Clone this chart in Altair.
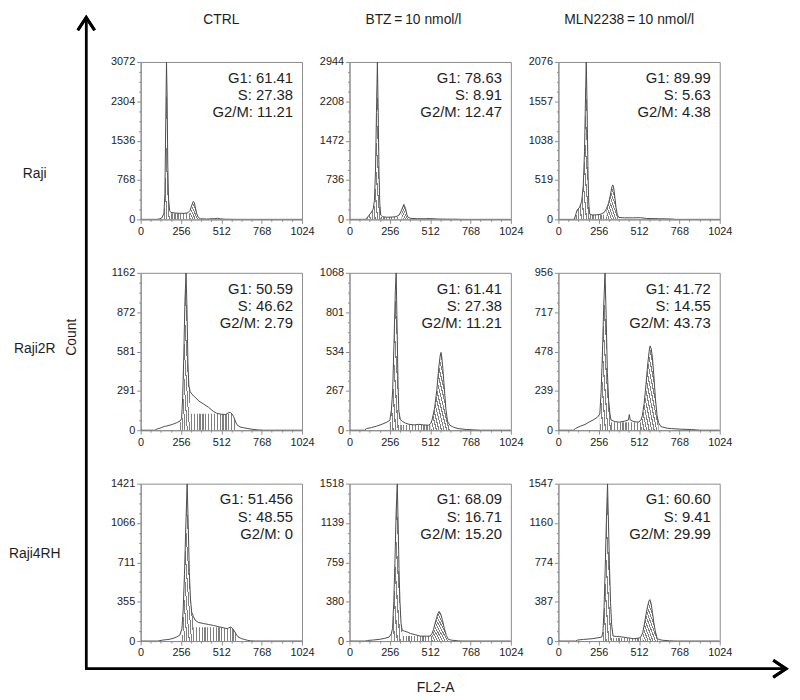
import altair as alt
import pandas as pd

# ---------------- data ----------------
row_names = ["Raji", "Raji2R", "Raji4RH"]
col_names = ["CTRL", "BTZ\u2009=\u200910 nmol/l", "MLN2238\u2009=\u200910 nmol/l"]
x_title = "FL2-A"
y_title = "Count"
x_tick_labels = [0, 256, 512, 768, 1024]
y_top_labels = [3072, 2944, 2076, 1162, 1068, 956, 1421, 1518, 1547]

g1_pct = ["61.41", "78.63", "89.99", "50.59", "61.41", "41.72", "51.456", "68.09", "60.60"]
s_pct = ["27.38", "8.91", "5.63", "46.62", "27.38", "14.55", "48.55", "16.71", "9.41"]
g2m_pct = ["11.21", "12.47", "4.38", "2.79", "11.21", "43.73", "0", "15.20", "29.99"]

# (channel, count) pairs of each DNA histogram
hist_raji_ctrl = [(0, 0), (100, 0), (118, 8), (135, 30), (148, 120), (154, 500), (159, 1800), (164, 3072),
                  (168, 2400), (172, 1100), (177, 400), (184, 170), (192, 135), (215, 125), (245, 118),
                  (275, 118), (300, 128), (314, 175), (324, 270), (334, 350), (340, 330), (348, 220),
                  (356, 110), (366, 35), (380, 12), (420, 6), (470, 14), (488, 22), (505, 10), (540, 3),
                  (600, 0), (1024, 0)]
hist_raji_btz = [(0, 0), (100, 0), (112, 30), (125, 80), (140, 140), (150, 190), (158, 350), (165, 900),
                 (171, 2000), (177, 2944), (182, 2000), (187, 900), (192, 300), (198, 80), (210, 50),
                 (235, 40), (265, 42), (295, 50), (315, 80), (330, 170), (345, 280), (356, 200), (364, 90),
                 (372, 35), (390, 18), (430, 12), (480, 12), (515, 15), (560, 6), (620, 4), (680, 3),
                 (720, 0), (1024, 0)]
hist_raji_mln = [(0, 0), (100, 0), (110, 60), (118, 120), (135, 160), (148, 240), (158, 450), (166, 900),
                 (172, 1600), (177, 2076), (182, 1500), (188, 600), (193, 200), (199, 70), (215, 58),
                 (240, 60), (265, 65), (290, 90), (305, 140), (318, 210), (330, 320), (340, 430), (345, 454),
                 (350, 430), (358, 300), (366, 150), (374, 60), (384, 25), (420, 20), (470, 20), (520, 22),
                 (560, 12), (640, 8), (716, 5), (740, 0), (1024, 0)]
hist_raji2r_ctrl = [(0, 0), (90, 0), (101, 7), (130, 18), (150, 28), (165, 31), (200, 42), (228, 55),
                    (250, 68), (260, 85), (267, 250), (274, 560), (281, 950), (288, 1162), (294, 900),
                    (300, 500), (306, 330), (314, 285), (326, 265), (344, 245), (370, 215), (397, 195),
                    (430, 170), (460, 140), (481, 126), (510, 118), (540, 116), (556, 128), (568, 132),
                    (580, 120), (590, 100), (600, 70), (610, 42), (630, 24), (655, 18), (700, 8), (740, 3),
                    (780, 0), (1024, 0)]
hist_raji2r_btz = [(0, 0), (95, 0), (108, 11), (140, 18), (170, 27), (200, 38), (232, 52), (256, 67),
                   (266, 140), (274, 270), (283, 620), (291, 950), (296, 1068), (302, 700), (308, 300),
                   (313, 130), (322, 75), (335, 60), (355, 48), (378, 40), (410, 36), (440, 40), (470, 36),
                   (502, 34), (515, 45), (524, 70), (540, 150), (554, 270), (566, 420), (576, 510),
                   (581, 528), (586, 490), (592, 420), (602, 280), (612, 140), (622, 60), (637, 34),
                   (660, 20), (689, 11), (740, 5), (793, 2), (830, 0), (1024, 0)]
hist_raji2r_mln = [(0, 0), (95, 0), (108, 10), (140, 25), (170, 35), (194, 49), (220, 62), (248, 79),
                   (263, 99), (271, 230), (279, 450), (288, 760), (296, 956), (303, 700), (311, 350),
                   (319, 180), (327, 100), (334, 62), (360, 52), (388, 49), (420, 55), (445, 62), (450, 95),
                   (456, 62), (480, 52), (511, 49), (525, 65), (533, 89), (544, 160), (554, 256), (566, 390),
                   (576, 480), (582, 512), (589, 495), (597, 440), (606, 330), (616, 190), (626, 90),
                   (636, 45), (651, 22), (690, 12), (716, 10), (780, 6), (846, 4), (900, 0), (1024, 0)]
hist_raji4rh_ctrl = [(0, 0), (110, 0), (140, 9), (180, 15), (205, 24), (230, 38), (248, 53), (262, 110),
                     (270, 280), (278, 600), (287, 1050), (295, 1421), (302, 1050), (309, 620), (316, 380),
                     (324, 260), (334, 225), (345, 190), (366, 168), (400, 158), (430, 150), (463, 141),
                     (500, 128), (530, 118), (549, 112), (560, 120), (571, 127), (582, 115), (592, 97),
                     (605, 65), (618, 38), (640, 22), (657, 15), (680, 6), (699, 2), (730, 0), (1024, 0)]
hist_raji4rh_btz = [(0, 0), (100, 0), (115, 6), (150, 10), (188, 16), (220, 25), (251, 38), (265, 70),
                    (273, 120), (281, 380), (288, 750), (296, 1250), (303, 1518), (309, 1100), (314, 700),
                    (320, 380), (327, 170), (334, 105), (350, 95), (370, 85), (386, 73), (420, 60),
                    (449, 48), (480, 47), (512, 48), (524, 75), (533, 111), (548, 200), (560, 262),
                    (568, 286), (578, 265), (590, 200), (602, 120), (614, 55), (627, 16), (650, 8),
                    (690, 2), (720, 0), (1024, 0)]
hist_raji4rh_mln = [(0, 0), (110, 0), (122, 10), (160, 16), (214, 23), (250, 32), (275, 39), (283, 90),
                    (290, 330), (297, 700), (304, 1150), (312, 1547), (318, 1150), (324, 750), (331, 380),
                    (338, 160), (347, 49), (370, 45), (398, 42), (440, 32), (479, 23), (505, 28), (520, 33),
                    (535, 80), (545, 160), (556, 260), (566, 340), (575, 395), (581, 407), (588, 370),
                    (597, 280), (606, 179), (616, 90), (626, 35), (636, 16), (660, 8), (704, 3), (740, 0),
                    (1024, 0)]

histograms = [hist_raji_ctrl, hist_raji_btz, hist_raji_mln,
              hist_raji2r_ctrl, hist_raji2r_btz, hist_raji2r_mln,
              hist_raji4rh_ctrl, hist_raji4rh_btz, hist_raji4rh_mln]

# fitted cell-cycle components (channel ranges; S phase with plateau level)
g1_gates = [(140, 192), (110, 200), (108, 200), (250, 322), (256, 325), (262, 334), (255, 335), (265, 334), (280, 347)]
g2_gates = [(312, 372), (318, 375), (300, 386), None, (515, 640), (525, 640), None, (520, 628), (530, 636)]
s_gates = [(175, 325, 120), (195, 320, 42), (195, 320, 60), (300, 612, 122), (318, 530, 36),
           (330, 540, 48), (310, 625, 125), (320, 540, 50), (340, 540, 30)]

# ---------------- layout & style ----------------
FONT = "Liberation Sans"
PW, PH = 163, 159
LW = 85
COL_GAP, ROW_GAP = 48, 54
FRAME = "#8c8c8c"
LINE = "#4d4d4d"
HATCH = "#808080"
TXT = "#1e1e1e"
header_dx = [0, -17, -10]
row_label_y = [113, 77, 71]


def hatch(n, vertical):
    stops = []
    for k in range(n):
        a, b, c = k / n, (k + 0.45) / n, (k + 1) / n
        stops += [alt.GradientStop(color=HATCH, offset=a), alt.GradientStop(color=HATCH, offset=b),
                  alt.GradientStop(color="#ffffff", offset=b), alt.GradientStop(color="#ffffff", offset=c)]
    if vertical:
        return alt.Gradient(gradient="linear", stops=stops, x1=0, y1=0, x2=1, y2=0)
    return alt.Gradient(gradient="linear", stops=stops, x1=0, y1=1, x2=1, y2=0)


x_minor = [x_tick_labels[-1] * k / 16 for k in range(17)]
x_major_test = f"abs(datum.value * 4 / {x_tick_labels[-1]} - round(datum.value * 4 / {x_tick_labels[-1]})) < 0.001"


def panel(i):
    df = pd.DataFrame(histograms[i], columns=["ch", "n"])
    top = y_top_labels[i]
    yvals = [top * k / 16 for k in range(17)]
    ymaj = f"abs(datum.value * 4 / {top} - round(datum.value * 4 / {top})) < 0.001"
    yaxis = alt.Axis(values=yvals, format=".0f", labelExpr=f"({ymaj}) ? datum.label : ''",
                     tickSize={"condition": {"test": ymaj, "value": 4}, "value": 2},
                     title=None, labelOverlap=False, grid=False)
    xaxis = alt.Axis(values=x_minor, format="d", labelExpr=f"({x_major_test}) ? datum.label : ''",
                     tickSize={"condition": {"test": x_major_test, "value": 4}, "value": 2},
                     title=None, labelFlush=False, labelOverlap=False, grid=False)
    xs = alt.Scale(domain=[x_tick_labels[0], x_tick_labels[-1]], nice=False, zero=False)
    ys = alt.Scale(domain=[0, top], nice=False)
    X = alt.X("ch:Q", scale=xs, axis=xaxis)
    base = alt.Chart(df)
    layers = []
    lo, hi, lv = s_gates[i]
    n_s = max(3, round((hi - lo) * PW / 1024 / 3.0))
    layers.append(
        base.transform_filter(f"datum.ch >= {lo} && datum.ch <= {hi}")
        .transform_calculate(s=f"min(datum.n, {lv})")
        .mark_area(color=hatch(n_s, True), clip=True)
        .encode(x=X, y=alt.Y("s:Q", scale=ys, axis=yaxis))
    )
    for gate in (g1_gates[i], g2_gates[i]):
        if gate is None:
            continue
        lo, hi = gate
        n_g = max(4, round(2 * (hi - lo) * PW / 1024 / 2.6))
        layers.append(
            base.transform_filter(f"datum.ch >= {lo} && datum.ch <= {hi}")
            .mark_area(color=hatch(n_g, False), clip=True)
            .encode(x=X, y=alt.Y("n:Q", scale=ys, axis=yaxis))
        )
    layers.append(base.mark_line(color=LINE, strokeWidth=1, clip=True)
                  .encode(x=X, y=alt.Y("n:Q", scale=ys, axis=yaxis)))
    txt = pd.DataFrame({"t": [f"G1: {g1_pct[i]}\nS: {s_pct[i]}\nG2/M: {g2m_pct[i]}"]})
    layers.append(alt.Chart(txt).mark_text(align="right", baseline="top", lineBreak="\n", lineHeight=17.5,
                                           font=FONT, fontSize=15, color=TXT)
                  .encode(x=alt.value(PW - 9), y=alt.value(9), text="t:N"))
    ch = alt.layer(*layers).properties(width=PW, height=PH,
                                       view=alt.ViewBackground(stroke=FRAME, strokeWidth=1))
    if i < 3:
        ch = ch.properties(title=alt.TitleParams(text=col_names[i], font=FONT, fontSize=14,
                                                 fontWeight="normal", color=TXT, frame="group",
                                                 anchor="middle", dx=header_dx[i], dy=-5, offset=24))
    return ch


UP = "M-1,0.76L0,-0.76L1,0.76"
RIGHT = "M-0.76,-1L0.76,0L-0.76,1"


def left_cell(r):
    lab = pd.DataFrame({"label": [row_names[r]]})
    layers = [alt.Chart(lab).mark_text(font=FONT, fontSize=14, color=TXT, align="center", baseline="middle")
              .encode(x=alt.value(26), y=alt.value(row_label_y[r]), text="label:N")]
    if r == 0:
        ax = pd.DataFrame({"axis": [y_title, x_title]})
        layers += [
            alt.Chart(ax).mark_rule(color="black", strokeWidth=2.5)
            .encode(x=alt.value(78), y=alt.value(-45), y2=alt.value(613)),
            alt.Chart(ax).mark_point(shape=UP, size=289, filled=False, color="black", strokeWidth=3, opacity=1)
            .encode(x=alt.value(78), y=alt.value(-38.5)),
            alt.Chart(ax).mark_rule(color="black", strokeWidth=2.5)
            .encode(x=alt.value(77), x2=alt.value(785), y=alt.value(613)),
            alt.Chart(ax).mark_point(shape=RIGHT, size=289, filled=False, color="black", strokeWidth=3, opacity=1)
            .encode(x=alt.value(778.5), y=alt.value(613)),
        ]
    if r == 1:
        t = pd.DataFrame({"label": [y_title]})
        layers.append(alt.Chart(t).mark_text(font=FONT, fontSize=14, color=TXT, angle=270,
                                             align="center", baseline="middle")
                      .encode(x=alt.value(64), y=alt.value(65), text="label:N"))
    if r == 2:
        t = pd.DataFrame({"label": [x_title]})
        layers.append(alt.Chart(t).mark_text(font=FONT, fontSize=14, color=TXT,
                                             align="center", baseline="middle")
                      .encode(x=alt.value(431), y=alt.value(206), text="label:N"))
    return alt.layer(*layers).properties(width=LW, height=PH, view=alt.ViewBackground(stroke=None))


cells = []
for r in range(3):
    cells.append(left_cell(r))
    for c in range(3):
        cells.append(panel(r * 3 + c))

chart = (
    alt.concat(*cells, columns=4, spacing={"row": ROW_GAP, "column": COL_GAP}, bounds="flush", align="each")
    .properties(padding=0, background="white")
    .configure_view(stroke=None)
    .configure_axis(labelFont=FONT, labelFontSize=11, labelColor="#222222", domainColor=FRAME,
                    tickColor=FRAME, labelPadding=2, domainWidth=1, tickWidth=1)
    .configure_title(font=FONT)
)

chart.save("out.html", embed_options={"renderer": "svg", "actions": False})
